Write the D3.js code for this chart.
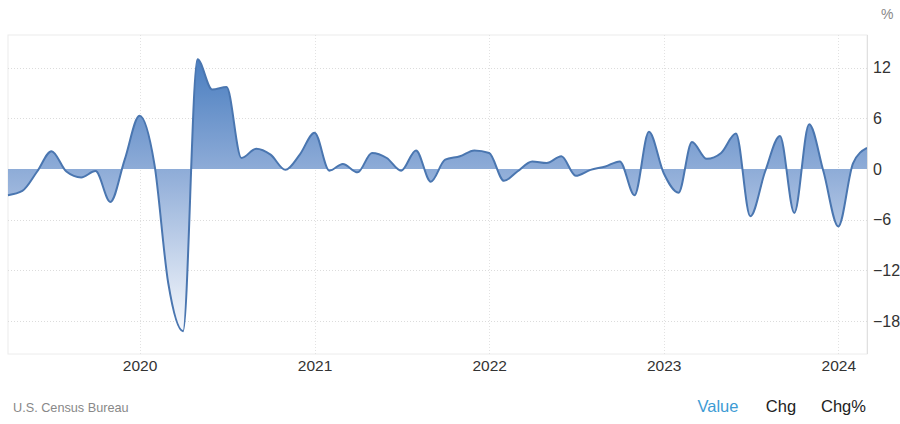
<!DOCTYPE html>
<html>
<head>
<meta charset="utf-8">
<script src="https://cdn.jsdelivr.net/npm/d3@7"></script>
<style>
html,body{margin:0;padding:0;background:#fff;}
svg{display:block;font-family:"Liberation Sans",Arial,sans-serif;}
</style>
</head>
<body>
<svg id="chart" width="900" height="424"></svg>
<script>
const months = [
"2019-04","2019-05","2019-06","2019-07","2019-08","2019-09","2019-10","2019-11","2019-12",
"2020-01","2020-02","2020-03","2020-04","2020-05","2020-06","2020-07","2020-08","2020-09","2020-10","2020-11","2020-12",
"2021-01","2021-02","2021-03","2021-04","2021-05","2021-06","2021-07","2021-08","2021-09","2021-10","2021-11","2021-12",
"2022-01","2022-02","2022-03","2022-04","2022-05","2022-06","2022-07","2022-08","2022-09","2022-10","2022-11","2022-12",
"2023-01","2023-02","2023-03","2023-04","2023-05","2023-06","2023-07","2023-08","2023-09","2023-10","2023-11","2023-12",
"2024-01","2024-02","2024-03"];
const values = [
-3.1,-2.6,-0.3,2.1,-0.3,-1.0,-0.25,-3.9,1.1,
6.3,0.6,-13.5,-19.2,13.0,9.4,9.7,1.3,2.4,1.7,-0.1,1.7,
4.3,-0.2,0.6,-0.4,1.9,1.3,-0.2,2.2,-1.5,1.1,1.5,2.2,
1.9,-1.4,-0.3,0.9,0.7,1.5,-0.8,-0.1,0.3,0.9,-3.1,4.4,
-0.5,-2.8,3.2,1.2,1.9,4.2,-5.6,-0.3,3.9,-5.2,5.3,-0.3,
-6.8,0.7,2.5];
const yTicks = [12,6,0,-6,-12,-18];
const xTicks = ["2020","2021","2022","2023","2024"];
const unitLabel = "%";
const sourceLabel = "U.S. Census Bureau";
const buttons = ["Value","Chg","Chg%"];

const parse = d3.timeParse("%Y-%m");
const data = months.map((m,i)=>({date:parse(m), v:values[i]}));

const svg = d3.select("#chart");
const L=8, R=867, T=35, B=354;
const x = d3.scaleTime().domain([data[0].date, data[data.length-1].date]).range([L,R]);
const y = d3.scaleLinear().domain([-21.9,15.86]).range([B,T]);

const defs = svg.append("defs");
const grad = defs.append("linearGradient").attr("id","fillGrad")
  .attr("gradientUnits","userSpaceOnUse").attr("x1",0).attr("x2",0)
  .attr("y1",y(13)).attr("y2",y(-19.2));
grad.append("stop").attr("offset","0%").attr("stop-color","#4a7ec0");
grad.append("stop").attr("offset","40%").attr("stop-color","#8dabd7");
grad.append("stop").attr("offset","100%").attr("stop-color","#f7f9fd");

// plot border
svg.append("rect").attr("x",L).attr("y",T).attr("width",R-L).attr("height",B-T)
  .attr("fill","none").attr("stroke","#ececec").attr("stroke-width",1);

// horizontal grid
svg.append("g").selectAll("line").data(yTicks.filter(t=>t!==0)).join("line")
  .attr("x1",L).attr("x2",R).attr("y1",d=>Math.round(y(d))+0.5).attr("y2",d=>Math.round(y(d))+0.5)
  .attr("stroke","#dcdcdc").attr("stroke-dasharray","1,2");
// vertical grid
svg.append("g").selectAll("line").data(xTicks).join("line")
  .attr("x1",d=>Math.round(x(parse(d+"-01")))+0.5).attr("x2",d=>Math.round(x(parse(d+"-01")))+0.5)
  .attr("y1",T).attr("y2",B)
  .attr("stroke","#e2e2e2").attr("stroke-dasharray","1,2");

// area & line
const area = d3.area().x(d=>x(d.date)).y0(y(0)).y1(d=>y(d.v)).curve(d3.curveMonotoneX);
const line = d3.line().x(d=>x(d.date)).y(d=>y(d.v)).curve(d3.curveMonotoneX);
svg.append("path").datum(data).attr("d",area).attr("fill","url(#fillGrad)");
svg.append("path").datum(data).attr("d",line).attr("fill","none")
  .attr("stroke","#4a76b0").attr("stroke-width",2).attr("stroke-linejoin","round");

// right axis line
svg.append("line").attr("x1",R+0.5).attr("x2",R+0.5).attr("y1",T).attr("y2",B)
  .attr("stroke","#e0e0e0");

// y axis labels
const yAxis = d3.axisRight(y).tickValues(yTicks).tickSize(0).tickPadding(6);
const gy = svg.append("g").attr("transform",`translate(${R},0)`).call(yAxis);
gy.select(".domain").remove();
gy.selectAll("text").attr("font-size",16).attr("fill","#333").attr("font-family","Liberation Sans, Arial, sans-serif");

svg.append("text").attr("x",881).attr("y",19).attr("font-size",14).attr("fill","#888").text(unitLabel);

// x axis labels
const xAxis = d3.axisBottom(x).tickValues(xTicks.map(d=>parse(d+"-01"))).tickFormat(d3.timeFormat("%Y")).tickSize(0).tickPadding(6);
const gx = svg.append("g").attr("transform",`translate(0,${B})`).call(xAxis);
gx.select(".domain").remove();
gx.selectAll("text").attr("font-size",15.5).attr("fill","#333").attr("font-family","Liberation Sans, Arial, sans-serif");

// source
svg.append("text").attr("x",13).attr("y",412).attr("font-size",12.7).attr("fill","#888").text(sourceLabel);

// buttons
const bx = [718,781,843.5];
const bcol = ["#3d9bd4","#222","#222"];
svg.append("g").selectAll("text").data(buttons).join("text")
  .attr("x",(d,i)=>bx[i]).attr("y",412).attr("text-anchor","middle")
  .attr("font-size",16.5).attr("fill",(d,i)=>bcol[i]).text(d=>d);
</script>
</body>
</html>
